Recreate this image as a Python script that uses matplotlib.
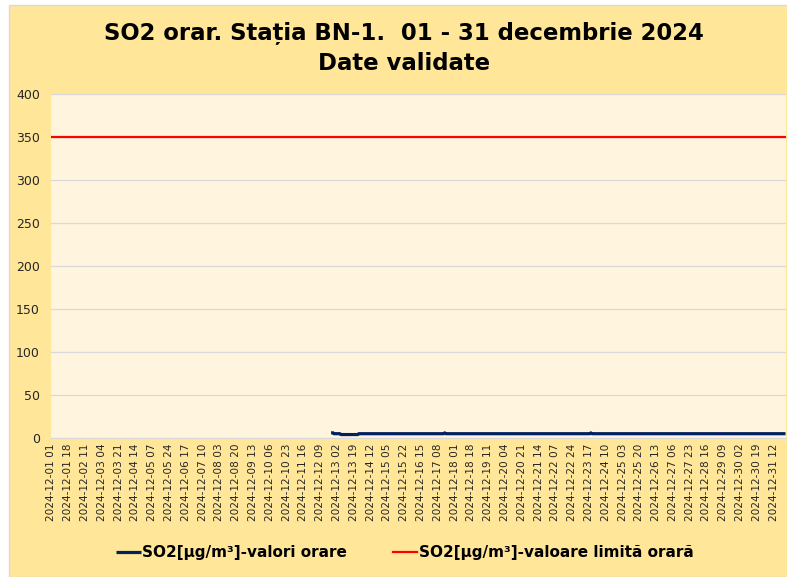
import numpy as np
import matplotlib.pyplot as plt
from matplotlib.patches import Rectangle

# hourly categories, 1 - 31 December 2024 (hours 01..24)
days = list(range(1, 32))
hours = list(range(1, 25))
labels = [f"2024-12-{d:02d} {h:02d}" for d in days for h in hours]

# first hour with validated data
first_valid = "2024-12-12 20"

# SO2 hourly values [ug/m3] from 2024-12-12 20 to 2024-12-31 24
so2_values = [
    6, 6, 6, 5, 5,
    5, 5, 5, 5, 5, 4, 4, 4, 4, 4, 4, 4, 4, 4, 4, 4, 4, 4, 4, 4, 4, 4, 4, 5,
    5, 5, 5, 5, 5, 5, 5, 5, 5, 5, 5, 5, 5, 5, 5, 5, 5, 5, 5, 5, 5, 5, 5, 5,
    5, 5, 5, 5, 5, 5, 5, 5, 5, 5, 5, 5, 5, 5, 5, 5, 5, 5, 5, 5, 5, 5, 5, 5,
    5, 5, 5, 5, 5, 5, 5, 5, 5, 5, 5, 5, 5, 5, 5, 5, 5, 5, 5, 5, 5, 5, 5, 5,
    5, 5, 5, 5, 5, 5, 5, 5, 5, 5, 5, 5, 5, 5, 6, 5, 5, 5, 5, 5, 5, 5, 5, 5,
    5, 5, 5, 5, 5, 5, 5, 5, 5, 5, 5, 5, 5, 5, 5, 5, 5, 5, 5, 5, 5, 5, 5, 5,
    5, 5, 5, 5, 5, 5, 5, 5, 5, 5, 5, 5, 5, 5, 5, 5, 5, 5, 5, 5, 5, 5, 5, 5,
    5, 5, 5, 5, 5, 5, 5, 5, 5, 5, 5, 5, 5, 5, 5, 5, 5, 5, 5, 5, 5, 5, 5, 5,
    5, 5, 5, 5, 5, 5, 5, 5, 5, 5, 5, 5, 5, 5, 5, 5, 5, 5, 5, 5, 5, 5, 5, 5,
    5, 5, 5, 5, 5, 5, 5, 5, 5, 5, 5, 5, 5, 5, 5, 5, 5, 5, 5, 5, 5, 5, 5, 5,
    5, 5, 5, 5, 5, 5, 5, 5, 5, 5, 5, 5, 5, 5, 5, 5, 5, 5, 6, 5, 5, 5, 5, 5,
    5, 5, 5, 5, 5, 5, 5, 5, 5, 5, 5, 5, 5, 5, 5, 5, 5, 5, 5, 5, 5, 5, 5, 5,
    5, 5, 5, 5, 5, 5, 5, 5, 5, 5, 5, 5, 5, 5, 5, 5, 5, 5, 5, 5, 5, 5, 5, 5,
    5, 5, 5, 5, 5, 5, 5, 5, 5, 5, 5, 5, 5, 5, 5, 5, 5, 5, 5, 5, 5, 5, 5, 5,
    5, 5, 5, 5, 5, 5, 5, 5, 5, 5, 5, 5, 5, 5, 5, 5, 5, 5, 5, 5, 5, 5, 5, 5,
    5, 5, 5, 5, 5, 5, 5, 5, 5, 5, 5, 5, 5, 5, 5, 5, 5, 5, 5, 5, 5, 5, 5, 5,
    5, 5, 5, 5, 5, 5, 5, 5, 5, 5, 5, 5, 5, 5, 5, 5, 5, 5, 5, 5, 5, 5, 5, 5,
    5, 5, 5, 5, 5, 5, 5, 5, 5, 5, 5, 5, 5, 5, 5, 5, 5, 5, 5, 5, 5, 5, 5, 5,
    5, 5, 5, 5, 5, 5, 5, 5, 5, 5, 5, 5, 5, 5, 5, 5, 5, 5, 5, 5, 5, 5, 5, 5,
]
limit_value = 350

y_ticks = [0, 50, 100, 150, 200, 250, 300, 350, 400]
label_step = 17

start = labels.index(first_valid)
so2 = np.full(len(labels), np.nan)
so2[start:start + len(so2_values)] = so2_values
limit = np.full(len(labels), limit_value)
x = np.arange(len(labels))

fig = plt.figure(figsize=(7.87, 5.77), dpi=100)
fig.patch.set_facecolor('white')
fig.patches.append(Rectangle((9 / 787, 0), 1, 1 - 5 / 577, transform=fig.transFigure,
                             facecolor='#FFE699', edgecolor='#D9D9D9', lw=1, zorder=-10))

ax = fig.add_axes([51 / 787, 1 - 438 / 577, 735 / 787, 344 / 577])
ax.set_facecolor('#FFF4DE')

ax.plot(x, so2, color='#002060', lw=2.3, solid_capstyle='butt',
        label='SO2[µg/m³]-valori orare')
ax.plot(x, limit, color='#FF0000', lw=1.6, label='SO2[µg/m³]-valoare limită orară')

ax.set_xlim(-0.5, len(labels) - 0.5)
ax.set_ylim(0, 400)
ax.set_yticks(y_ticks)
ax.yaxis.grid(True, color='#D9D9D9', lw=0.9)
ax.set_axisbelow(True)
ax.set_xticks(x[::label_step])
ax.set_xticklabels(labels[::label_step], rotation=90, fontsize=7.6, color='#262626')
ax.tick_params(axis='y', labelsize=9, colors='#262626', length=0, pad=8)
ax.tick_params(axis='x', length=0, pad=4)
for s in ['top', 'right', 'left']:
    ax.spines[s].set_visible(False)
ax.spines['bottom'].set_color('#D9D9D9')

fig.text(404 / 787, 1 - 48 / 577, 'SO2 orar. Stația BN-1.  01 - 31 decembrie 2024\nDate validate',
         ha='center', va='center', fontsize=16.4, fontweight='bold', linespacing=1.45)

fig.legend(loc='center', bbox_to_anchor=(405 / 787, 1 - 553 / 577), ncol=2, frameon=False,
           prop={'size': 11, 'weight': 'bold'}, handlelength=1.6, handletextpad=0.1,
           columnspacing=3.0)

fig.savefig('out.png', dpi=100, facecolor=fig.get_facecolor())
